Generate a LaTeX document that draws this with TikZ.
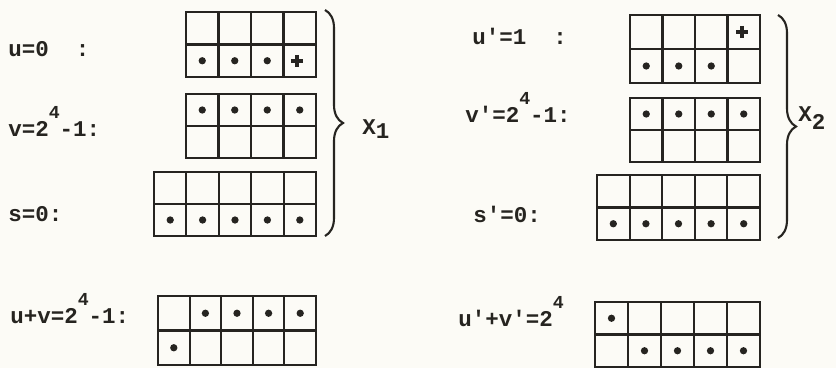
\documentclass[tikz,border=0pt]{standalone}
\usepackage{fontspec}
\setmonofont{Liberation Mono}
\usetikzlibrary{decorations.pathreplacing}

\definecolor{ink}{RGB}{38,36,32}
\definecolor{paper}{RGB}{252,251,246}

\tikzset{
  frame/.style={line width=2pt,draw=ink},
  inner/.style={line width=1.5pt,draw=ink},
  lbl/.style={anchor=base west,inner sep=0pt,text=ink,
    font=\ttfamily\bfseries\fontsize{16}{18}\selectfont},
  brace/.style={decorate,decoration={brace,amplitude=4.5mm},
    line width=1.5pt,draw=ink},
}

% register: x, y, columns, cell width, cell height, dotted cells col/row
\newcommand{\regbox}[6]{%
  \foreach \kk in {2,...,#3}
    \draw[inner] ({#1+(\kk-1)*#4},#2) -- ++(0,{2*#5});
  \draw[inner] (#1,{#2+#5}) -- ++({#3*#4},0);
  \draw[frame] (#1,#2) rectangle ++({#3*#4},{2*#5});
  \foreach \ci/\ri in {#6}
    \fill[ink] ({#1+(\ci-0.5)*#4},{#2+(\ri-0.5)*#5}) circle[radius=2.6pt];
}
\newcommand{\plusmark}[2]{%
  \draw[line width=2.2pt,ink] ({#1-6},#2) -- ({#1+6},#2)
    (#1,{#2-6}) -- (#1,{#2+6});
}
\newcommand{\pwr}[1]{\raisebox{4.5mm}{\fontsize{13}{13}\selectfont#1}}

\begin{document}
\begin{tikzpicture}[x=0.25mm,y=-0.25mm]
  \fill[paper] (0,0) rectangle (836,368);
  \useasboundingbox (0,0) rectangle (836,368);

  % left half
  \node[lbl] (u)  at (8,57)   {u=0\ \ :};
  \node[lbl] (v)  at (8,137)  {v=2\pwr{4}-1:};
  \node[lbl] (s)  at (8,222)  {s=0:};
  \node[lbl] (uv) at (10,323) {u+v=2\pwr{4}-1:};

  \regbox{186}{12}{4}{32.5}{32.5}{1/2,2/2,3/2}
  \plusmark{297}{61}
  \regbox{186}{94}{4}{32.5}{32}{1/1,2/1,3/1,4/1}
  \regbox{154}{172}{5}{32.4}{32}{1/2,2/2,3/2,4/2,5/2}
  \regbox{158}{296}{5}{31.6}{34.5}{2/1,3/1,4/1,5/1,1/2}

  \coordinate (b1top) at (325,10);
  \coordinate (b1bot) at (325,236);
  \draw[brace] (b1top) -- (b1bot);
  \node[lbl] (x1) at (362,135) {X\raisebox{-0.8mm}{1}};

  % right half
  \node[lbl] (u2)  at (472,45)  {u'=1\ \ :};
  \node[lbl] (v2)  at (465,123) {v'=2\pwr{4}-1:};
  \node[lbl] (s2)  at (473,223) {s'=0:};
  \node[lbl] (uv2) at (458,327) {u'+v'=2\pwr{4}};

  \regbox{630}{15}{4}{32.5}{34}{1/2,2/2,3/2}
  \plusmark{742}{32}
  \regbox{630}{98}{4}{32.5}{32}{1/1,2/1,3/1,4/1}
  \regbox{597}{175}{5}{32.6}{32.5}{1/2,2/2,3/2,4/2,5/2}
  \regbox{595}{302}{5}{33}{32.5}{1/1,2/2,3/2,4/2,5/2}

  \coordinate (b2top) at (778,15);
  \coordinate (b2bot) at (778,238);
  \draw[brace] (b2top) -- (b2bot);
  \node[lbl] (x2) at (798,122) {X\raisebox{-2mm}{2}};
\end{tikzpicture}
\end{document}
